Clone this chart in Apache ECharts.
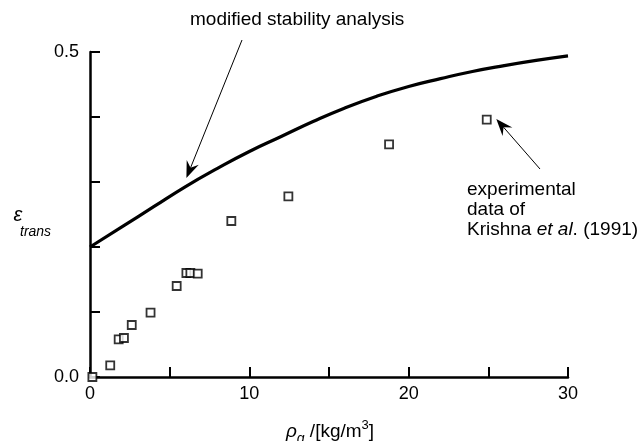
<!DOCTYPE html>
<html>
<head>
<meta charset="utf-8">
<script src="https://cdn.jsdelivr.net/npm/echarts@6/dist/echarts.min.js"></script>
<style>
  html, body { margin: 0; padding: 0; background: #fff; }
  #chart { width: 643px; height: 441px; }
</style>
</head>
<body>
<div id="chart"></div>
<script>
// modified stability analysis curve
var curveX = [0, 2, 4, 6, 8, 10, 12, 14, 16, 18, 20, 22, 24, 26, 28, 30]
var curveY = [0.200, 0.231, 0.262, 0.293, 0.321, 0.347, 0.370, 0.393, 0.414, 0.432, 0.447, 0.459, 0.470, 0.479, 0.487, 0.494]
// experimental data of Krishna et al. (1991)
var expX = [0.15, 1.27, 1.8, 2.13, 2.62, 3.8, 5.44, 6.05, 6.3, 6.76, 8.87, 12.45, 18.77, 24.9]
var expY = [0.0, 0.018, 0.058, 0.06, 0.08, 0.099, 0.14, 0.16, 0.16, 0.159, 0.24, 0.278, 0.358, 0.396]
var xTickLabels = [0, 10, 20, 30]
var yTickLabels = ['0.0', '0.5']

var font = 'Liberation Sans, Arial, Helvetica, sans-serif'
var chart = echarts.init(document.getElementById('chart'))

function zip (xs, ys) {
  return xs.map(function (x, i) { return [x, ys[i]] })
}

chart.setOption({
  animation: false,
  backgroundColor: '#fff',
  grid: { left: 90, right: 75, top: 52, bottom: 64 },
  xAxis: {
    type: 'value',
    min: 0,
    max: 30,
    interval: 5,
    splitLine: { show: false },
    axisLine: { lineStyle: { color: '#000', width: 2.5 } },
    axisTick: { inside: true, length: 10, lineStyle: { color: '#000', width: 2 } },
    axisLabel: {
      margin: 8,
      color: '#000',
      fontSize: 18,
      fontFamily: font,
      formatter: function (v) {
        return xTickLabels.indexOf(v) >= 0 ? String(v) : ''
      }
    }
  },
  yAxis: {
    type: 'value',
    min: 0,
    max: 0.5,
    interval: 0.1,
    splitLine: { show: false },
    axisLine: { lineStyle: { color: '#000', width: 2.5 } },
    axisTick: { inside: true, length: 10, lineStyle: { color: '#000', width: 2 } },
    axisLabel: {
      margin: 11,
      color: '#000',
      fontSize: 18,
      fontFamily: font,
      formatter: function (v) {
        var s = v.toFixed(1)
        return yTickLabels.indexOf(s) >= 0 ? s : ''
      }
    }
  },
  series: [
    {
      name: 'modified stability analysis',
      type: 'line',
      data: zip(curveX, curveY),
      smooth: 0.5,
      showSymbol: false,
      lineStyle: { color: '#000', width: 3.2 },
      z: 3
    },
    {
      name: 'experimental',
      type: 'scatter',
      data: zip(expX, expY),
      symbol: 'rect',
      symbolSize: 8,
      clip: false,
      itemStyle: { color: '#fff', borderColor: '#000', borderWidth: 1.8 },
      z: 4
    }
  ]
})

// arrow helper: line from tail to tip plus a barbed head
function arrow (tail, tip) {
  var dx = tip[0] - tail[0]
  var dy = tip[1] - tail[1]
  var len = Math.sqrt(dx * dx + dy * dy)
  var ux = dx / len
  var uy = dy / len
  var hl = 17
  var hw = 6.5
  var bx = tip[0] - ux * hl
  var by = tip[1] - uy * hl
  var nx = tip[0] - ux * hl * 0.65
  var ny = tip[1] - uy * hl * 0.65
  return [
    {
      type: 'line',
      shape: { x1: tail[0], y1: tail[1], x2: nx, y2: ny },
      style: { stroke: '#000', lineWidth: 1 }
    },
    {
      type: 'polygon',
      shape: {
        points: [
          tip,
          [bx - uy * hw, by + ux * hw],
          [nx, ny],
          [bx + uy * hw, by - ux * hw]
        ]
      },
      style: { fill: '#000' }
    }
  ]
}

var tip1 = chart.convertToPixel({ gridIndex: 0 }, [6.05, 0.306])
var tip2 = chart.convertToPixel({ gridIndex: 0 }, [25.5, 0.397])

var graphics = [].concat(
  arrow([242, 40], tip1),
  arrow([540, 169], tip2),
  [
    {
      type: 'text',
      left: 190,
      top: 10,
      style: { text: 'modified stability analysis', font: '19px ' + font, fill: '#000' }
    },
    {
      type: 'text',
      left: 467,
      top: 180,
      style: {
        text: 'experimental\ndata of\nKrishna {i|et al}. (1991)',
        font: '19px ' + font,
        fill: '#000',
        lineHeight: 20,
        rich: { i: { fontStyle: 'italic', fontSize: 19, fontFamily: font, lineHeight: 20 } }
      }
    },
    {
      type: 'text',
      x: 18,
      y: 215,
      style: { text: 'ε', font: 'italic 20px ' + font, fill: '#000', align: 'center', verticalAlign: 'middle' }
    },
    {
      type: 'text',
      x: 20,
      y: 232,
      style: { text: 'trans', font: 'italic 14px ' + font, fill: '#000', align: 'left', verticalAlign: 'middle' }
    },
    {
      type: 'text',
      x: 330,
      y: 432,
      style: {
        text: '{i|ρ}{sub|g} /[kg/m{sup|3}]',
        font: '19px ' + font,
        fill: '#000',
        align: 'center',
        verticalAlign: 'middle',
        rich: {
          i: { fontStyle: 'italic', fontSize: 19, fontFamily: font },
          sub: { fontStyle: 'italic', fontSize: 14, fontFamily: font, padding: [14, 0, 0, 0] },
          sup: { fontSize: 13, fontFamily: font, padding: [0, 0, 14, 0] }
        }
      }
    }
  ]
)

chart.setOption({ graphic: graphics })
</script>
</body>
</html>
